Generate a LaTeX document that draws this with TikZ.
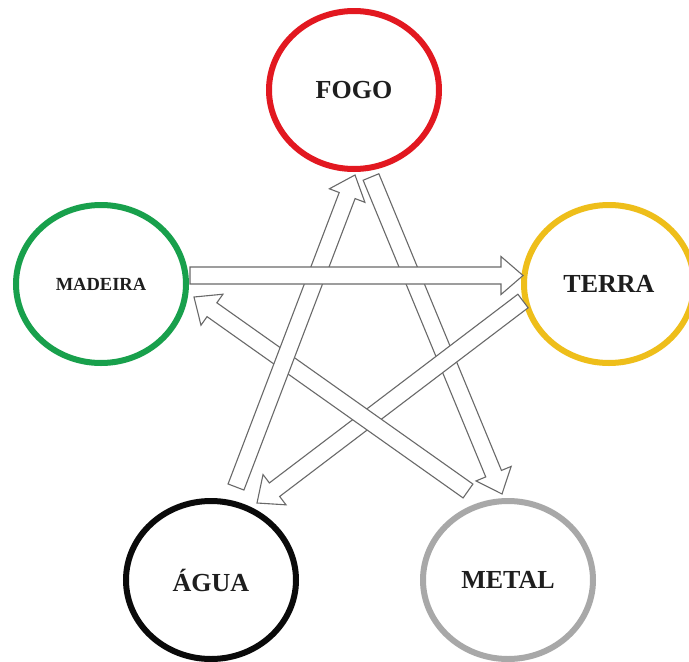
\documentclass[tikz,border=0pt]{standalone}
\usepackage{fontspec}
\setmainfont{Liberation Serif}
\usetikzlibrary{calc,shapes.geometric}
\definecolor{cfogo}{RGB}{226,24,32}
\definecolor{cmad}{RGB}{24,160,76}
\definecolor{cterra}{RGB}{238,190,26}
\definecolor{cagua}{RGB}{10,10,10}
\definecolor{cmetal}{RGB}{168,168,168}
\definecolor{carr}{RGB}{105,105,105}
\definecolor{ctxt}{RGB}{30,30,30}
\tikzset{
  elem/.style={ellipse, draw=#1, line width=6pt, fill=white, minimum width=170pt, minimum height=158pt, inner sep=0pt, text=ctxt, font=\bfseries\fontsize{26}{26}\selectfont},
  blk/.style={draw=carr, line width=1.1pt, fill=white, line join=miter},
}
\newcommand{\blockarr}[2]{%
  \coordinate (hb) at ($(#2)!22pt!(#1)$);
  \draw[blk] ($(#1)!8.5pt!90:(#2)$) -- ($(hb)!8.5pt!-90:(#1)$) -- ($(hb)!19pt!-90:(#1)$) -- (#2)
    -- ($(hb)!19pt!90:(#1)$) -- ($(hb)!8.5pt!90:(#1)$) -- ($(#1)!8.5pt!-90:(#2)$) -- cycle;
}
\begin{document}
\begin{tikzpicture}[x=1pt,y=-1pt]
\useasboundingbox[fill=white] (0,0) rectangle (689,662);
\clip (0,0) rectangle (689,662);
% elements
\node[elem=cfogo]  (fogo)  at (354,90)  {FOGO};
\node[elem=cmad, font=\bfseries\fontsize{18.5}{18.5}\selectfont] (madeira) at (101,284) {MADEIRA};
\node[elem=cterra] (terra) at (609,284) {TERRA};
\node[elem=cagua]  (agua)  at (211,580) {ÁGUA};
\node[elem=cmetal] (metal) at (508,580) {METAL};
% arrow end points
\coordinate (fm1) at (371,177);  \coordinate (fm2) at (502,494);
\coordinate (ta1) at (523,301);  \coordinate (ta2) at (257,503);
\coordinate (mm1) at (468,491);  \coordinate (mm2) at (194,297);
\coordinate (af1) at (236,487);  \coordinate (af2) at (355,175);
\coordinate (mt1) at (190,275.5);\coordinate (mt2) at (523,275.5);
% arrows
\blockarr{fm1}{fm2}
\blockarr{ta1}{ta2}
\blockarr{mm1}{mm2}
\blockarr{af1}{af2}
\blockarr{mt1}{mt2}
\end{tikzpicture}
\end{document}
